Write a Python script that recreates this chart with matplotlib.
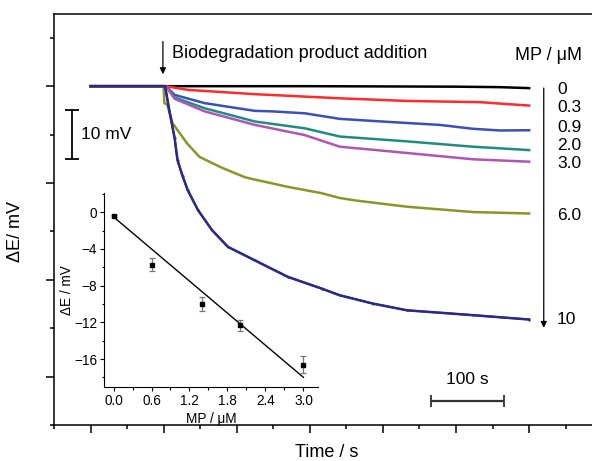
import matplotlib
matplotlib.use("Agg")
import matplotlib.pyplot as plt
from matplotlib.ticker import MultipleLocator, FormatStrFormatter

plt.rcParams['font.family'] = ['Liberation Sans', 'DejaVu Sans']

# concentrations (MP / uM) and end labels
conc_labels = ['0', '0.3', '0.9', '2.0', '3.0', '6.0', '10']
colors = ['#000000', '#ff2a2a', '#3a50b4', '#1f8c84', '#b055b4', '#8a9628', '#2c2a86']

# potential traces, time in s, dE in mV
t_0 = [0, 100, 200, 300, 400, 500, 560, 600]
e_0 = [0, 0, 0, 0, -0.05, -0.1, -0.2, -0.4]

t_03 = [0, 100, 103, 133, 225, 341, 433, 533, 570, 600]
e_03 = [0, 0, 0, -0.76, -1.65, -2.5, -3.05, -3.3, -3.7, -4.0]

t_09 = [0, 100, 103, 115, 156, 225, 248, 293, 341, 410, 478, 523, 560, 600]
e_09 = [0, 0, 0, -1.8, -3.5, -5.1, -5.2, -5.6, -6.75, -7.4, -8.0, -8.8, -9.15, -9.1]

t_20 = [0, 100, 103, 115, 156, 225, 293, 341, 433, 523, 600]
e_20 = [0, 0, 0, -2.34, -4.55, -7.3, -8.7, -10.4, -11.4, -12.5, -13.2]

t_30 = [0, 100, 103, 115, 156, 225, 293, 341, 433, 523, 600]
e_30 = [0, 0, 0, -2.6, -5.2, -8.0, -10.1, -12.5, -13.8, -15.1, -15.6]

t_60 = [0, 100, 101, 105, 112, 132, 149, 179, 211, 225, 270, 316, 341, 362, 433, 523, 600]
e_60 = [0, 0, -3.5, -3.8, -7.6, -11.8, -14.6, -16.8, -18.8, -19.3, -20.8, -22.1, -23.1,
        -23.6, -24.9, -26.0, -26.3]

t_10 = [0, 100, 102, 108, 115, 119, 126, 133, 147, 166, 188, 225, 270, 316, 341, 386,
        433, 523, 600]
e_10 = [0, 0, 0, -5.2, -10.7, -15.3, -18.6, -21.5, -25.6, -29.7, -33.2, -36.0, -39.4,
        -41.8, -43.2, -44.9, -46.3, -47.3, -48.2]

times = [t_0, t_03, t_09, t_20, t_30, t_60, t_10]
values = [e_0, e_03, e_09, e_20, e_30, e_60, e_10]
label_y = [-0.6, -4.3, -8.5, -12.2, -15.9, -26.7, -48.3]

# inset: calibration
mp = [0.0, 0.6, 1.4, 2.0, 3.0]
de = [-0.4, -5.7, -10.0, -12.3, -16.6]
de_err = [0.15, 0.7, 0.8, 0.6, 0.9]
fit_x = [0.0, 3.0]
fit_y = [-0.5, -18.0]

fig = plt.figure(figsize=(5.92, 4.61), dpi=100)
ax = fig.add_axes([0.0912, 0.078, 0.9088, 0.8915])

for t, e, c in zip(times, values, colors):
    ax.plot(t, e, color=c, lw=1.8, solid_joinstyle='round')
# navy trace drawn last with its dotted look
ax.plot(t_10, e_10, color=colors[-1], lw=1.4, marker='.', ms=1.2)

ax.set_xlim(-50, 686)
ax.set_ylim(-70, 14.9)
ax.xaxis.set_major_locator(MultipleLocator(100))
ax.xaxis.set_minor_locator(MultipleLocator(50))
ax.yaxis.set_major_locator(MultipleLocator(20))
ax.yaxis.set_minor_locator(MultipleLocator(10))
ax.tick_params(which='both', direction='out', labelleft=False, labelbottom=False, width=1.1)
ax.tick_params(which='major', length=5.5)
ax.tick_params(which='minor', length=3)
ax.spines['right'].set_visible(False)
for s in ['left', 'bottom', 'top']:
    ax.spines[s].set_linewidth(1.1)

ax.set_ylabel('ΔE/ mV', fontsize=13)
ax.yaxis.set_label_coords(-0.055, 0.47)
ax.set_xlabel('Time / s', fontsize=13)
ax.xaxis.set_label_coords(0.507, -0.047)

# addition arrow and text
ax.annotate('', xy=(99, 1.9), xytext=(99, 9.8),
            arrowprops=dict(arrowstyle='-|>', color='black', lw=0.9, mutation_scale=9))
ax.text(111, 6.8, 'Biodegradation product addition', fontsize=13, va='center', ha='left')
ax.text(581, 6.4, 'MP / μM', fontsize=13, va='center', ha='left')

# concentration arrow and labels
ax.annotate('', xy=(620, -50.5), xytext=(620, 0.2),
            arrowprops=dict(arrowstyle='-|>', color='black', lw=0.9, mutation_scale=9))
for lab, y in zip(conc_labels, label_y):
    ax.text(638, y, lab, fontsize=12.5, va='center', ha='left')

# scale bars
ax.errorbar([-25], [-10], yerr=[5], color='black', capsize=5, elinewidth=1.3, capthick=1.3)
ax.text(-13, -10, '10 mV', fontsize=12.5, va='center', ha='left')
ax.errorbar([516], [-65.1], xerr=[50], color='#333333', capsize=4, elinewidth=1.6, capthick=1.3)
ax.text(516, -60.5, '100 s', fontsize=12.5, va='center', ha='center')

# inset
ins = fig.add_axes([0.1757, 0.1605, 0.3615, 0.4208])
ins.plot(fit_x, fit_y, color='black', lw=1.0)
ins.errorbar(mp, de, yerr=de_err, fmt='s', color='black', ms=2.8,
             ecolor='#777777', elinewidth=0.9, capsize=2, capthick=0.9)
ins.set_xlim(-0.15, 3.23)
ins.set_ylim(-19.05, 2.1)
ins.xaxis.set_major_locator(MultipleLocator(0.6))
ins.xaxis.set_minor_locator(MultipleLocator(0.3))
ins.yaxis.set_major_locator(MultipleLocator(4))
ins.yaxis.set_minor_locator(MultipleLocator(2))
ins.xaxis.set_major_formatter(FormatStrFormatter('%.1f'))
ins.tick_params(which='both', direction='out', labelsize=9.8, width=0.8, pad=2)
ins.tick_params(which='major', length=3)
ins.tick_params(which='minor', length=1.8)
ins.spines['right'].set_visible(False)
ins.spines['top'].set_visible(False)
ins.set_xlabel('MP / μM', fontsize=9.8, labelpad=3)
ins.set_ylabel('ΔE / mV', fontsize=9.8, labelpad=0)
ins.patch.set_alpha(0)

fig.savefig('out.png', dpi=100)
